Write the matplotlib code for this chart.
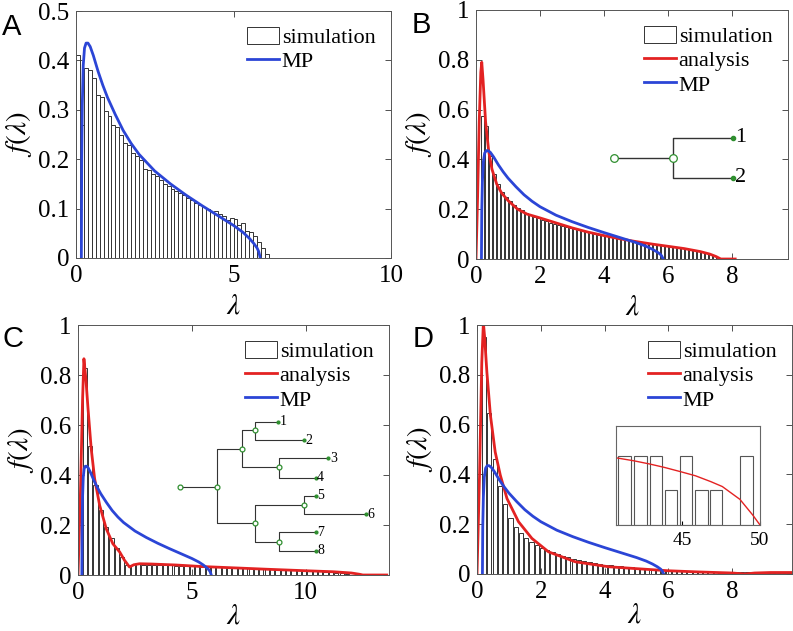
import matplotlib.pyplot as plt

plt.rcParams["font.family"] = "serif"
plt.rcParams["font.serif"] = ["Liberation Serif", "DejaVu Serif"]
plt.rcParams["mathtext.fontset"] = "stix"

SERIF = "Liberation Serif"
BLUE = "#2b45d6"
RED = "#e32222"
GREEN = "#2f8f2f"
EDGE = "#333333"

# Marchenko-Pastur curve (same in all panels)
mp_x = [0.17, 0.18, 0.2, 0.23, 0.27, 0.32, 0.38, 0.45, 0.55, 0.7, 0.85, 1.0, 1.25,
        1.5, 1.75, 2.0, 2.5, 3.0, 3.5, 4.0, 4.5, 5.0, 5.3, 5.5, 5.65, 5.75, 5.8, 5.85]
mp_y = [0.0, 0.19, 0.31, 0.39, 0.425, 0.435, 0.435, 0.428, 0.41, 0.378, 0.35, 0.325, 0.29,
        0.258, 0.232, 0.21, 0.176, 0.15, 0.127, 0.106, 0.086, 0.066, 0.052, 0.04, 0.029, 0.02, 0.013, 0.0]

# panel A histogram
a_start, a_bin = 0.0, 0.125
a_hist = [0.41, 0.27, 0.385, 0.38, 0.365, 0.33, 0.325, 0.298, 0.287, 0.27, 0.265, 0.248,
          0.232, 0.228, 0.212, 0.207, 0.198, 0.18, 0.178, 0.17, 0.165, 0.158, 0.15, 0.146,
          0.14, 0.135, 0.131, 0.127, 0.122, 0.117, 0.112, 0.108, 0.104, 0.1, 0.093, 0.095,
          0.09, 0.086, 0.076, 0.08, 0.079, 0.066, 0.07, 0.055, 0.052, 0.045, 0.033, 0.02, 0.008]

# panel B
b_start, b_bin = 0.14, 0.125
b_hist = [0.574, 0.534, 0.415, 0.34, 0.3, 0.27, 0.25, 0.232, 0.218, 0.205, 0.195, 0.185,
          0.177, 0.17, 0.163, 0.158, 0.152, 0.146, 0.141, 0.137, 0.132, 0.128, 0.124, 0.12,
          0.116, 0.112, 0.108, 0.105, 0.101, 0.098, 0.095, 0.092, 0.089, 0.086, 0.083, 0.08,
          0.078, 0.075, 0.072, 0.07, 0.067, 0.064, 0.062, 0.06, 0.057, 0.055, 0.053, 0.05,
          0.048, 0.046, 0.044, 0.042, 0.04, 0.037, 0.034, 0.03, 0.025, 0.02, 0.013, 0.006, 0.002]
b_red_x = [0.0, 0.05, 0.1, 0.15, 0.18, 0.22, 0.3, 0.4, 0.5, 0.65, 0.8, 1.0, 1.3, 1.6, 2.0,
           2.5, 3.0, 3.5, 4.0, 4.5, 5.0, 5.5, 6.0, 6.5, 7.0, 7.3, 7.5, 7.65, 8.1]
b_red_y = [0.0, 0.25, 0.55, 0.75, 0.79, 0.72, 0.55, 0.43, 0.36, 0.3, 0.265, 0.235, 0.2, 0.18,
           0.165, 0.145, 0.125, 0.108, 0.094, 0.081, 0.07, 0.06, 0.051, 0.042, 0.03, 0.02, 0.01, 0.0, 0.0]
b_tree_x = [4.30, 6.15, 8.02, 8.02]
b_tree_y = [0.404, 0.404, 0.487, 0.327]
b_tree_parent = [-1, 0, 1, 1]
b_tree_labels = {2: "1", 3: "2"}

# panel C
c_start, c_bin = 0.175, 0.235
c_hist = [0.83, 0.515, 0.36, 0.26, 0.193, 0.147, 0.107, 0.071, 0.04, 0.042, 0.043, 0.042,
          0.042, 0.041, 0.04, 0.04, 0.039, 0.038, 0.037, 0.037, 0.036, 0.035, 0.034, 0.034,
          0.033, 0.032, 0.031, 0.03, 0.03, 0.029, 0.028, 0.027, 0.026, 0.025, 0.024, 0.024,
          0.023, 0.022, 0.021, 0.02, 0.019, 0.018, 0.017, 0.016, 0.015, 0.013, 0.012, 0.01, 0.008, 0.005]
c_red_x = [0.0, 0.1, 0.2, 0.26, 0.35, 0.44, 0.58, 0.73, 0.95, 1.24, 1.53, 1.83, 2.04, 2.26,
           2.45, 2.7, 3.2, 4.3, 5.4, 7.0, 8.3, 10.0, 11.2, 12.0, 12.35, 12.5, 13.55]
c_red_y = [0.0, 0.3, 0.7, 0.865, 0.78, 0.665, 0.505, 0.385, 0.279, 0.185, 0.125, 0.092, 0.059,
           0.032, 0.041, 0.045, 0.044, 0.04, 0.034, 0.028, 0.023, 0.017, 0.013, 0.008, 0.003, 0.0, 0.0]
c_tree_x = [4.48, 6.12, 7.20, 7.75, 7.75, 8.83, 9.91, 8.83,
            8.80, 9.91, 10.99, 10.44, 10.44, 12.63, 10.44, 10.44]
c_tree_y = [0.353, 0.353, 0.503, 0.207, 0.58, 0.433, 0.28, 0.133,
            0.613, 0.54, 0.467, 0.39, 0.317, 0.244, 0.171, 0.097]
c_tree_parent = [-1, 0, 1, 1, 2, 2, 3, 3, 4, 4, 5, 5, 6, 6, 7, 7]
c_tree_labels = {8: "1", 9: "2", 10: "3", 11: "4", 12: "5", 13: "6", 14: "7", 15: "8"}

# panel D
d_start, d_bin = 0.14, 0.165
d_hist = [0.95, 0.645, 0.46, 0.355, 0.28, 0.225, 0.19, 0.165, 0.145, 0.13, 0.118, 0.105,
          0.095, 0.087, 0.08, 0.073, 0.067, 0.062, 0.057, 0.052, 0.048, 0.044, 0.041, 0.038,
          0.035, 0.033, 0.031, 0.029, 0.027, 0.025, 0.023, 0.022, 0.02, 0.019, 0.018, 0.017,
          0.016, 0.015, 0.014, 0.013, 0.012, 0.011, 0.011, 0.01, 0.01, 0.009, 0.009, 0.008,
          0.008, 0.007, 0.007, 0.006, 0.006, 0.005, 0.005, 0.005, 0.004, 0.004, 0.004]
d_red_x = [0.0, 0.08, 0.15, 0.2, 0.24, 0.31, 0.42, 0.57, 0.73, 0.94, 1.3, 1.72, 2.24, 3.08,
           4.13, 5.17, 6.0, 7.0, 8.0, 8.4, 8.7, 9.2, 9.9]
d_red_y = [0.0, 0.4, 0.85, 1.01, 0.95, 0.81, 0.638, 0.49, 0.397, 0.303, 0.21, 0.143, 0.089,
           0.049, 0.029, 0.02, 0.013, 0.008, 0.004, 0.0, 0.004, 0.006, 0.006]
# inset of panel D (tail of the spectrum)
ins_centers = [41.3, 42.33, 43.32, 44.29, 45.25, 46.25, 47.18, 49.12]
ins_counts = [2, 2, 2, 1, 2, 1, 1, 2]
ins_red_x = [40.75, 41.93, 42.92, 43.88, 44.89, 45.86, 46.85, 47.58, 48.71, 49.53, 50.0]
ins_red_y = [1.94, 1.85, 1.76, 1.66, 1.54, 1.42, 1.25, 1.11, 0.74, 0.29, 0.0]

W, H = 793, 631


def px_axes(fig, left, top, right, bottom):
    return fig.add_axes([left / W, 1 - bottom / H, (right - left) / W, (bottom - top) / H])


def draw_hist(ax, start, bin_w, heights, frac):
    centers = [start + bin_w * (i + 0.5) for i in range(len(heights))]
    return ax.bar(centers, heights, width=bin_w * frac, color="white",
                  edgecolor=EDGE, linewidth=0.7, label="simulation")


def style(ax, xlim, xticks, ylim, yticks, ylabels, xpad):
    ax.set_xlim(xlim)
    ax.set_ylim(ylim)
    ax.set_xticks(xticks)
    ax.set_xticklabels([str(t) for t in xticks])
    ax.set_yticks(yticks)
    ax.set_yticklabels(ylabels)
    ax.tick_params(direction="in", top=True, right=True, length=4, width=0.6,
                   labelsize=18, labelfontfamily=SERIF, pad=5, color="#333333")
    for s in ax.spines.values():
        s.set_color("#555555")
        s.set_linewidth(0.7)
    ax.set_xlabel(r"$\lambda$", fontsize=21, labelpad=xpad, math_fontfamily="stix")
    ax.set_ylabel(r"$f(\lambda)$", fontsize=21, labelpad=3, math_fontfamily="stix")


def draw_tree(ax, xs, ys, parents, labels, lw, ms_node, ms_leaf, fs, dx):
    for i, p in enumerate(parents):
        if p < 0:
            continue
        ax.plot([xs[p], xs[p], xs[i]], [ys[p], ys[i], ys[i]], color="#333333", lw=lw, zorder=4)
    for i in range(len(xs)):
        if i in labels:
            ax.plot(xs[i], ys[i], "o", ms=ms_leaf, color=GREEN, zorder=5)
            ax.text(xs[i] + dx, ys[i], labels[i], fontsize=fs, fontfamily=SERIF,
                    ha="left", va="center", zorder=5)
        else:
            ax.plot(xs[i], ys[i], "o", ms=ms_node, mfc="white", mec=GREEN, mew=0.9, zorder=5)


def add_legend(ax, handles):
    ax.legend(handles=handles, loc="upper right", frameon=False,
              prop={"family": SERIF, "size": 16}, handlelength=1.45,
              handleheight=0.85, handletextpad=0.1, labelspacing=0.12,
              borderaxespad=0.3, borderpad=0.4)


fig = plt.figure(figsize=(W / 100, H / 100), dpi=100)

y01 = [0, 0.2, 0.4, 0.6, 0.8, 1.0]
y01_lab = ["0", "0.2", "0.4", "0.6", "0.8", "1"]

# A
ax = px_axes(fig, 76, 11, 391, 258)
style(ax, (0, 10), [0, 5, 10], (0, 0.5), [0, 0.1, 0.2, 0.3, 0.4, 0.5],
      ["0", "0.1", "0.2", "0.3", "0.4", "0.5"], 5)
h_sim = draw_hist(ax, a_start, a_bin, a_hist, 1.0)
h_mp, = ax.plot(mp_x, mp_y, color=BLUE, lw=2, label="MP")
add_legend(ax, [h_sim, h_mp])

# B
ax = px_axes(fig, 476, 10, 788, 259)
style(ax, (0, 9.75), [0, 2, 4, 6, 8], (0, 1), y01, y01_lab, 5)
h_sim = draw_hist(ax, b_start, b_bin, b_hist, 0.8)
h_an, = ax.plot(b_red_x, b_red_y, color=RED, lw=2, label="analysis")
h_mp, = ax.plot(mp_x, mp_y, color=BLUE, lw=2, label="MP")
draw_tree(ax, b_tree_x, b_tree_y, b_tree_parent, b_tree_labels, 1.0, 5.5, 3, 16, 0.08)
add_legend(ax, [h_sim, h_an, h_mp])

# C
ax = px_axes(fig, 78, 325, 389, 575)
style(ax, (0, 13.65), [0, 5, 10], (0, 1), y01, y01_lab, 0)
h_sim = draw_hist(ax, c_start, c_bin, c_hist, 0.8)
h_an, = ax.plot(c_red_x, c_red_y, color=RED, lw=2, label="analysis")
h_mp, = ax.plot(mp_x, mp_y, color=BLUE, lw=2, label="MP")
draw_tree(ax, c_tree_x, c_tree_y, c_tree_parent, c_tree_labels, 0.8, 3.5, 2, 10, 0.06)
add_legend(ax, [h_sim, h_an, h_mp])

# D
ax = px_axes(fig, 477, 325, 792, 574)
style(ax, (0, 9.87), [0, 2, 4, 6, 8], (0, 1), y01, y01_lab, 0)
h_sim = draw_hist(ax, d_start, d_bin, d_hist, 0.8)
h_an, = ax.plot(d_red_x, d_red_y, color=RED, lw=2, label="analysis")
h_mp, = ax.plot(mp_x, mp_y, color=BLUE, lw=2, label="MP")
add_legend(ax, [h_sim, h_an, h_mp])

axi = px_axes(fig, 615.7, 425.7, 760, 525)
axi.bar(ins_centers, ins_counts, width=0.82, color="white", edgecolor="#555555", linewidth=0.8)
axi.plot(ins_red_x, ins_red_y, color=RED, lw=1)
axi.set_xlim(40.74, 50)
axi.set_ylim(0, 2.865)
axi.set_xticks([45, 50])
axi.set_xticklabels(["45", "50"])
axi.set_yticks([])
axi.tick_params(direction="in", length=3, labelsize=14, labelfontfamily=SERIF, pad=5)
for s in axi.spines.values():
    s.set_color("#666666")
    s.set_linewidth(0.8)

# panel letters
for letter, lx, ly in [("A", 2, 35), ("B", 412, 33), ("C", 2, 347), ("D", 413, 347)]:
    fig.text(lx / W, 1 - ly / H, letter, fontsize=21, family="Liberation Sans",
             ha="left", va="baseline")

fig.savefig("out.png", dpi=100)
